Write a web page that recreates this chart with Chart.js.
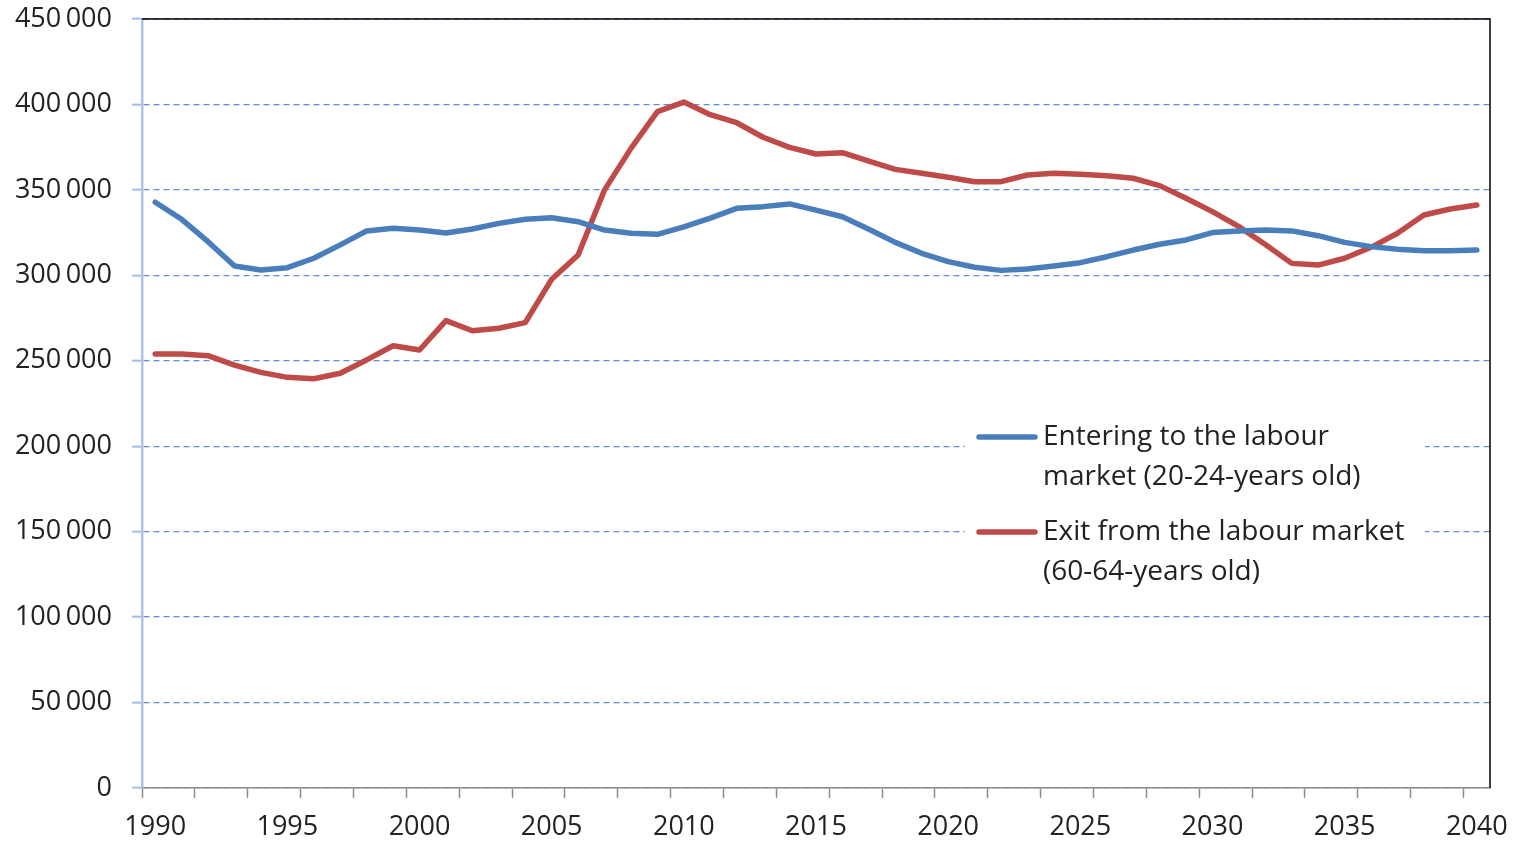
<!DOCTYPE html>
<html><head><meta charset="utf-8">
<script src="https://cdn.jsdelivr.net/npm/chart.js@4.4.0/dist/chart.umd.min.js"></script>
<style>html,body{margin:0;padding:0;background:#fff;} #wrap{width:1514px;height:843px;position:relative;}</style>
</head><body><div id="wrap"><canvas id="c"></canvas></div>
<script>
const years = [1990,1991,1992,1993,1994,1995,1996,1997,1998,1999,2000,2001,2002,2003,2004,2005,2006,2007,2008,2009,2010,2011,2012,2013,2014,2015,2016,2017,2018,2019,2020,2021,2022,2023,2024,2025,2026,2027,2028,2029,2030,2031,2032,2033,2034,2035,2036,2037,2038,2039,2040];
const entering = [342800,332800,319700,305500,303100,304500,310000,317800,326000,327500,326500,324800,327100,330400,332800,333700,331400,326500,324600,324000,328300,333500,339200,340200,341800,338200,334300,327000,319300,312900,308000,304700,302900,303700,305500,307400,310900,314800,318200,320700,325000,326000,326500,326000,323200,319300,316800,315200,314400,314400,314800];
const exiting = [254000,254000,253000,247500,243200,240300,239500,242700,250500,258800,256300,273500,267600,269000,272300,297700,311900,350000,374300,395800,401400,394000,389300,380800,374900,371000,371800,366900,362000,359700,357400,354800,354800,358700,359700,359100,358300,356800,352500,345100,337300,328500,318000,307000,306000,310000,316400,324600,335300,338800,341200];
const enteringLabel = ["Entering to the labour", "market (20-24-years old)"];
const exitingLabel = ["Exit from the labour market", "(60-64-years old)"];
const yMin = 0, yMax = 450000, yStep = 50000;

const FONT = '"Open Sans", Lato, sans-serif';
const fmt = v => String(v).replace(/\B(?=(\d{3})+(?!\d))/g, '\u2009');

const frame = {
  id: 'frame',
  afterDatasetsDraw(chart, args, o) {
    const { ctx, chartArea: a } = chart;
    ctx.save();
    ctx.strokeStyle = o.color;
    ctx.lineWidth = o.width;
    ctx.beginPath();
    ctx.moveTo(a.left, a.top);
    ctx.lineTo(a.right, a.top);
    ctx.lineTo(a.right, a.bottom);
    ctx.stroke();
    ctx.restore();
  }
};

const boxLegend = {
  id: 'boxLegend',
  afterDraw(chart, args, o) {
    const ctx = chart.ctx;
    ctx.save();
    ctx.fillStyle = '#fff';
    ctx.fillRect(o.x, o.y, o.w, o.h);
    ctx.font = o.fontSize + 'px ' + FONT;
    ctx.textBaseline = 'middle';
    ctx.textAlign = 'left';
    chart.data.datasets.forEach((ds, i) => {
      const y0 = o.firstY + i * o.itemGap;
      ctx.strokeStyle = ds.borderColor;
      ctx.lineWidth = ds.borderWidth;
      ctx.lineCap = 'round';
      ctx.beginPath();
      ctx.moveTo(o.lineX1, y0);
      ctx.lineTo(o.lineX2, y0);
      ctx.stroke();
      ctx.fillStyle = '#222';
      ds.label.forEach((t, k) => ctx.fillText(t, o.textX, y0 + k * o.lineHeight));
    });
    ctx.restore();
  }
};

new Chart(document.getElementById('c'), {
  type: 'line',
  data: {
    labels: years.map(String),
    datasets: [
      { label: enteringLabel, data: entering, borderColor: '#4a7ebb', backgroundColor: '#4a7ebb', borderWidth: 5.5, pointRadius: 0, tension: 0, borderCapStyle: 'round', borderJoinStyle: 'round' },
      { label: exitingLabel, data: exiting, borderColor: '#be4b48', backgroundColor: '#be4b48', borderWidth: 5.5, pointRadius: 0, tension: 0, borderCapStyle: 'round', borderJoinStyle: 'round' }
    ]
  },
  options: {
    responsive: true,
    maintainAspectRatio: false,
    animation: false,
    layout: { padding: { left: 0, top: 19, right: 24, bottom: 0 } },
    plugins: {
      legend: { display: false },
      tooltip: { enabled: false },
      frame: { color: '#000', width: 1.5 },
      boxLegend: { x: 965, y: 414, w: 460, h: 180, firstY: 437, itemGap: 95, lineHeight: 40, lineX1: 979, lineX2: 1035, textX: 1043, fontSize: 28 }
    },
    scales: {
      x: {
        type: 'category',
        offset: true,
        grid: {
          offset: true,
          drawOnChartArea: false,
          drawTicks: true,
          tickLength: 10,
          tickWidth: 1.5,
          tickColor: ctx => (ctx.index % 2 === 0 ? '#8c8c8c' : 'rgba(0,0,0,0)')
        },
        border: { display: true, color: '#8c8c8c', width: 1.5 },
        ticks: {
          autoSkip: false,
          maxRotation: 0,
          minRotation: 0,
          padding: 13,
          color: '#222',
          font: { family: FONT, size: 27 },
          callback: function (v, i) { return years[i] % 5 === 0 ? String(years[i]) : ''; }
        },
        afterFit: s => { s.height = 55; s.paddingLeft = 0; s.paddingRight = 0; }
      },
      y: {
        min: yMin, max: yMax,
        ticks: {
          stepSize: yStep,
          padding: 20,
          color: '#222',
          font: { family: FONT, size: 27 },
          callback: v => fmt(v)
        },
        grid: {
          color: '#5f8fd8',
          lineWidth: 1.3,
          tickLength: 10,
          tickColor: '#a3bde8',
          tickWidth: 2,
          tickBorderDash: []
        },
        border: { display: true, color: '#adc4ea', width: 2.5, dash: [6, 4] },
        afterFit: s => { s.width = 142; s.paddingTop = 0; s.paddingBottom = 0; }
      }
    }
  },
  plugins: [frame, boxLegend]
});
</script>
</body></html>
